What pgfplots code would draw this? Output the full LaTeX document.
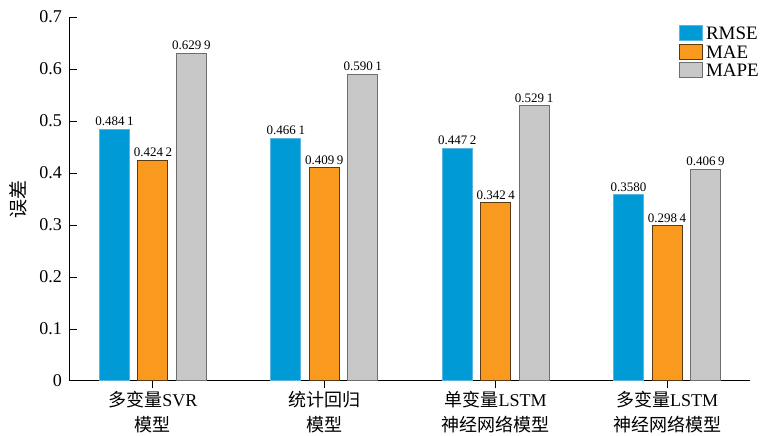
\documentclass[border=0pt]{standalone}
\usepackage{pgfplots}
\pgfplotsset{compat=1.18}
\usepackage{fontspec}
\setmainfont{Liberation Serif}
\newfontfamily\cjk{Noto Sans CJK SC}
\definecolor{cblue}{HTML}{009AD6}
\definecolor{cblueb}{HTML}{5AB6E0}
\definecolor{corange}{HTML}{F99A1F}
\definecolor{coranb}{HTML}{5A3A12}
\definecolor{cgray}{HTML}{C8C8C8}
\definecolor{cgrayb}{HTML}{6E6E6E}
\newcommand{\gs}{\hspace{0.2em}}
\begin{document}
\begin{tikzpicture}
\begin{axis}[
  name=ax,
  at={(0,0)}, anchor=south west,
  scale only axis,
  width=680pt, height=364pt,
  xmin=-0.484, xmax=3.484,
  ymin=0, ymax=0.7,
  ytick={0,0.1,0.2,0.3,0.4,0.5,0.6,0.7},
  yticklabels={0,0.1,0.2,0.3,0.4,0.5,0.6,0.7},
  xtick={0,1,2,3},
  xticklabels={{{\cjk 多变量}SVR\\{\cjk 模型}},{{\cjk 统计回归}\\{\cjk 模型}},{{\cjk 单变量}LSTM\\{\cjk 神经网络模型}},{{\cjk 多变量}LSTM\\{\cjk 神经网络模型}}},
  axis x line*=bottom, axis y line*=left,
  axis line style={-, line width=1pt},
  tick style={line width=1pt, black},
  tick align=inside,
  major tick length=7pt,
  xticklabel style={font=\fontsize{18}{25}\selectfont, align=center, inner sep=0pt, anchor=north, yshift=-3pt},
  yticklabel style={font=\fontsize{18}{18}\selectfont, inner sep=0pt, xshift=-8pt},
  ylabel={\cjk 误差},
  ylabel style={font=\fontsize{19}{19}\selectfont, at={(axis description cs:-0.0765,0.5)}, anchor=center},
  ybar, bar width=0.175,
  nodes near coords,
  point meta=explicit symbolic,
  every node near coord/.append style={font=\fontsize{13}{13}\selectfont, inner sep=0pt, yshift=3pt, anchor=south, black},
  legend style={draw=none, fill=none, at={(0.8956,0.978)}, anchor=north west, inner sep=0pt, outer sep=0pt,
    font=\fontsize{19}{19}\selectfont, row sep=2.5pt, column sep=0pt,
    cells={anchor=base west},
    nodes={inner sep=0pt, text height=13pt, text depth=0pt}},
  legend image code/.code={\draw[#1, line width=1pt] (0pt,-1pt) rectangle (23pt,14pt);},
]
\addplot[fill=cblue, draw=cblueb, line width=1pt, bar shift=-0.2245] coordinates {
  (0,0.4841) [0.484\gs1]
  (1,0.4661) [0.466\gs1]
  (2,0.4472) [0.447\gs2]
  (3,0.3580) [0.3580]
};
\addplot[fill=corange, draw=coranb, line width=1pt, bar shift=0] coordinates {
  (0,0.4242) [0.424\gs2]
  (1,0.4099) [0.409\gs9]
  (2,0.3424) [0.342\gs4]
  (3,0.2984) [0.298\gs4]
};
\addplot[fill=cgray, draw=cgrayb, line width=1pt, bar shift=0.2245] coordinates {
  (0,0.6299) [0.629\gs9]
  (1,0.5901) [0.590\gs1]
  (2,0.5291) [0.529\gs1]
  (3,0.4069) [0.406\gs9]
};
\legend{\hspace{3pt}RMSE,\hspace{3pt}MAE,\hspace{3pt}MAPE}
\end{axis}
\pgfresetboundingbox
\path (ax.south west) ++(-70pt,-55pt) rectangle ++(760pt,436pt);
\end{tikzpicture}
\end{document}
